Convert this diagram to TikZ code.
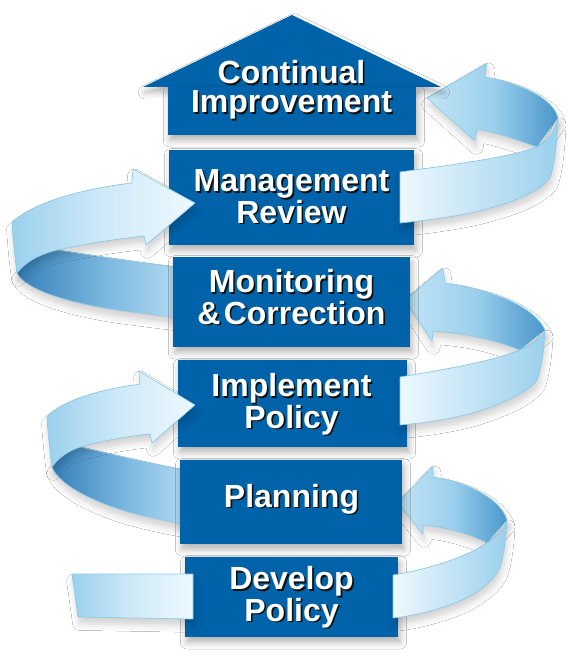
\documentclass[tikz,border=0pt]{standalone}
\usepackage{fontspec}
\setmainfont{Liberation Sans}
\usetikzlibrary{fit,shadows.blur}
\definecolor{boxF}{HTML}{0062A9}
\definecolor{txtW}{HTML}{FFFFFF}
\definecolor{txtS}{HTML}{101010}
\definecolor{rbEdge}{HTML}{8CCAE9}
\definecolor{rbPale}{HTML}{EEF8FE}
\definecolor{rbSoft}{HTML}{CFEAF8}
\definecolor{rbLight}{HTML}{C2E4F6}
\definecolor{rbMid}{HTML}{9BD0ED}
\definecolor{rbMidD}{HTML}{7DB9E0}
\definecolor{rbDark}{HTML}{4A96CB}
\definecolor{rbDeep}{HTML}{3580BA}
\newcommand\stagefont{\fontsize{24}{22}\selectfont\bfseries}
\newcommand\stagetext[3]{%
  \node[lblsh] (#1sh) at ([shift={(1.6,1.6)}]#2) {#3};
  \node[lbl] (#1) at (#2) {#3};}

\begin{document}
\begin{tikzpicture}[x=0.75pt,y=-0.75pt,line join=round,
  boxsh/.style={blur shadow={shadow xshift=1.5pt,shadow yshift=-4pt,shadow blur radius=5pt,shadow opacity=30}},
  stagebox/.style={fill=boxF,draw=none,inner sep=0pt,outer sep=0pt,boxsh},
  lbl/.style={text=txtW,font=\stagefont,align=center,anchor=base,inner sep=0pt},
  lblsh/.style={lbl,text=txtS},
  rib/.style={draw=rbEdge,line width=0.5pt,
    blur shadow={shadow xshift=1pt,shadow yshift=-5pt,shadow blur radius=5pt,shadow opacity=18}},
  ribfront/.style={rib,left color=rbPale,right color=rbMid},
  ribback/.style={rib,left color=rbLight,right color=rbDark,middle color=rbMid},
  ribfrontL/.style={rib,left color=rbMid,right color=rbPale,middle color=rbSoft},
  ribbackL/.style={rib,left color=rbDeep,right color=rbLight,middle color=rbMidD}]

\useasboundingbox (0,0) rectangle (576,659);
\fill[white] (0,0) rectangle (576,659);

% ribbons behind the stack, right side
\path[ribback] (427,98) -- (487,63) -- (485,77) .. controls (522,84) and (553,98) .. (558,118)
  -- (537,147) .. controls (515,139) and (495,132) .. (477,129) -- (475,141) -- cycle;
\path[ribback] (405,300) -- (443,268) -- (445,283) .. controls (485,289) and (532,303) .. (545,330)
  -- (520,350) .. controls (495,340) and (465,333) .. (433,331) -- (432,341) -- cycle;
\path[ribback] (398,503) -- (433,466) -- (433,477) .. controls (465,482) and (500,497) .. (507,520)
  -- (487,543) .. controls (468,533) and (445,527) .. (423,525) -- (423,534) -- cycle;

% ribbons behind the stack, left side
\path[ribbackL] (200,270) .. controls (150,264) and (95,256) .. (57,250) .. controls (40,254) and (25,262) .. (17,273)
  .. controls (25,290) and (70,303) .. (117,310) .. controls (140,313) and (170,317) .. (200,320) -- cycle;
\path[ribbackL] (205,474) .. controls (160,466) and (115,455) .. (80,447) .. controls (68,451) and (58,458) .. (52,467)
  .. controls (60,487) and (100,505) .. (140,515) .. controls (160,520) and (185,525) .. (205,527) -- cycle;

% the stack
\path[stagebox] (143,87) -- (292,15) -- (441,87) -- cycle;
\node[stagebox,fit={(168,87) (416,135)}] (cont) {};
\node[stagebox,fit={(169,150) (414,245)}] (mgmt) {};
\node[stagebox,fit={(173,257) (410,347)}] (mon) {};
\node[stagebox,fit={(178,360) (407,447)}] (impl) {};
\node[stagebox,fit={(180,460) (402,544)}] (plan) {};
\node[stagebox,fit={(185,557) (398,637)}] (dev) {};

% ribbons in front, right side
\path[ribfront] (400,172) .. controls (460,164) and (515,156) .. (537,147) .. controls (548,141) and (556,130) .. (558,118)
  .. controls (557,140) and (555,163) .. (550,178) .. controls (540,192) and (510,204) .. (470,213)
  .. controls (445,218) and (420,221) .. (400,223) -- cycle;
\path[ribfront] (400,377) .. controls (455,368) and (495,360) .. (520,350) .. controls (532,345) and (542,338) .. (545,330)
  .. controls (544,348) and (542,366) .. (537,380) .. controls (528,392) and (505,403) .. (473,413)
  .. controls (450,419) and (425,423) .. (400,425) -- cycle;
\path[ribfront] (393,575) .. controls (425,570) and (465,558) .. (487,543) .. controls (498,536) and (505,528) .. (507,520)
  .. controls (506,538) and (504,555) .. (500,567) .. controls (495,580) and (475,598) .. (440,608)
  .. controls (425,613) and (405,617) .. (393,618) -- cycle;

% ribbons in front, left side
\path[ribfrontL] (195,203) -- (133,169) -- (132,183) .. controls (90,188) and (35,200) .. (12,223)
  .. controls (13,240) and (15,258) .. (17,273) .. controls (25,262) and (40,254) .. (57,250)
  .. controls (85,244) and (115,239) .. (144,236) -- (146,245) -- cycle;
\path[ribfrontL] (195,405) -- (139,371) -- (140,384) .. controls (105,389) and (65,398) .. (47,417)
  .. controls (48,434) and (50,452) .. (52,467) .. controls (58,458) and (68,451) .. (80,447)
  .. controls (105,440) and (130,436) .. (150,434) -- (152,443) -- cycle;
\path[ribfrontL] (72,574) -- (193,574) -- (193,619) -- (78,617) -- cycle;

% stage texts (base = last line)
\stagetext{contT}{291.5,113}{Continual\\Improvement}
\stagetext{mgmtT}{291.5,223}{Management\\Review}
\stagetext{monT}{291.5,324}{Monitoring\\\&\hspace{0.1em}Correction}
\stagetext{implT}{291.5,428}{Implement\\Policy}
\stagetext{planT}{291.5,507}{Planning}
\stagetext{devT}{291.5,621}{Develop\\Policy}

\end{tikzpicture}
\end{document}
